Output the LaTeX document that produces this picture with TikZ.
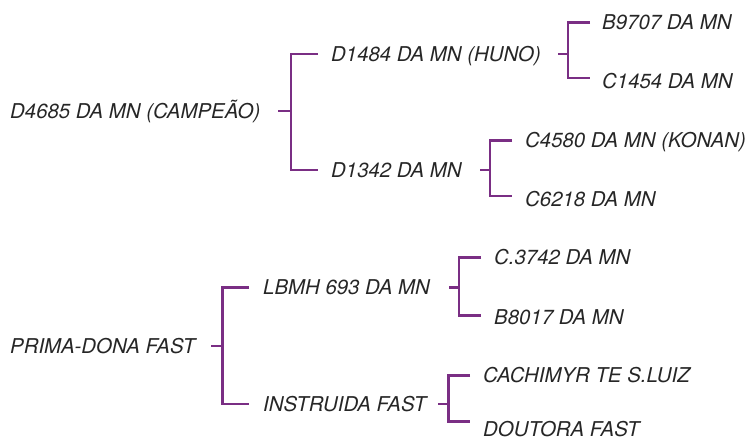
\documentclass[tikz,border=0pt]{standalone}
\usepackage{fontspec}
\setmainfont{TeX Gyre Heros}
\definecolor{pedigree}{HTML}{7A2E84}

\begin{document}
\begin{tikzpicture}[x=1pt, y=-1pt,
  animal/.style={anchor=west, inner sep=0pt, text height=14.6pt, text depth=0pt,
    font=\fontsize{20.4}{24}\selectfont\itshape, text=black!85},
  tie/.style={pedigree, line width=2.3pt},
  stub/.style={pedigree, line width=2.8pt}]

  \useasboundingbox (0,0) rectangle (754,441);

  % ---- first pedigree: the champion ----
  \node[animal] (campeao) at (10,111)    {D4685 DA MN (CAMPEÃO)};
  \node[animal] (huno)    at (331,54)    {D1484 DA MN (HUNO)};
  \node[animal] (d1342)   at (331,170)   {D1342 DA MN};
  \node[animal] (b9707)   at (602,22.5)  {B9707 DA MN};
  \node[animal] (c1454)   at (602,81)    {C1454 DA MN};
  \node[animal] (konan)   at (525,140.5) {C4580 DA MN (KONAN)};
  \node[animal] (c6218)   at (525,199)   {C6218 DA MN};

  % forks, named where the vertical bar sits
  \coordinate (f1) at ([xshift=-40]huno.west);
  \coordinate (f2) at ([xshift=-34]b9707.west);
  \coordinate (f3) at ([xshift=-35]konan.west);

  \draw[tie] ([xshift=-13]huno.west) -- (f1) |- ([xshift=-13]d1342.west);
  \draw[stub] (f1 |- campeao.east) -- ++(-13,0);
  \draw[tie] ([xshift=-12]b9707.west) -- (f2) |- ([xshift=-12,yshift=3]c1454.west);
  \draw[stub] (f2 |- huno.east) -- ++(-10,0);
  \draw[tie] ([xshift=-13]konan.west) -- (f3) |- ([xshift=-13,yshift=3]c6218.west);
  \draw[stub] (f3 |- d1342.east) -- ++(-10,0);

  % ---- second pedigree ----
  \node[animal] (prima)   at (10,346)    {PRIMA-DONA FAST};
  \node[animal] (lbmh)    at (263,287.5) {LBMH 693 DA MN};
  \node[animal] (instr)   at (263,404)   {INSTRUIDA FAST};
  \node[animal] (c3742)   at (494,257.5) {C.3742 DA MN};
  \node[animal] (b8017)   at (494,317.5) {B8017 DA MN};
  \node[animal] (cachi)   at (483,375.5) {CACHIMYR TE S.LUIZ};
  \node[animal] (doutora) at (483,429.5) {DOUTORA FAST};

  \coordinate (g1) at ([xshift=-40.5]lbmh.west);
  \coordinate (g2) at ([xshift=-35]c3742.west);
  \coordinate (g3) at ([xshift=-34.5]cachi.west);

  \draw[tie] ([xshift=-14]lbmh.west) -- (g1) |- ([xshift=-14]instr.west);
  \draw[stub] (g1 |- prima.east) -- ++(-12,0);
  \draw[tie] ([xshift=-13]c3742.west) -- (g2) |- ([xshift=-13,yshift=2]b8017.west);
  \draw[stub] (g2 |- lbmh.east) -- ++(-10,0);
  \draw[tie] ([xshift=-13]cachi.west) -- (g3) |- ([xshift=-13,yshift=8]doutora.west);
  \draw[stub] (g3 |- instr.east) -- ++(-10.5,0);

\end{tikzpicture}
\end{document}
